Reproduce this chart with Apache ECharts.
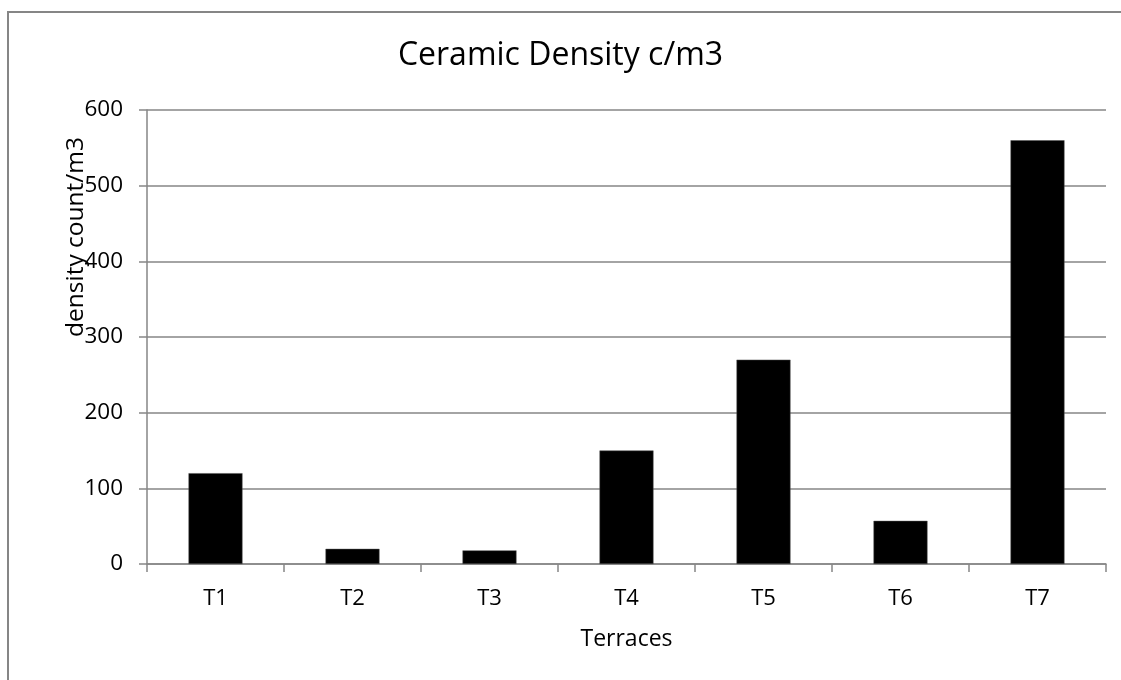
<!DOCTYPE html>
<html>
<head>
<meta charset="utf-8">
<script src="https://cdn.jsdelivr.net/npm/echarts@6/dist/echarts.min.js"></script>
<style>
  html, body { margin: 0; padding: 0; background: #fff; }
  #chart { width: 1121px; height: 680px; }
</style>
</head>
<body>
<div id="chart"></div>
<script>
// Ceramic density per terrace (count per cubic metre)
const terraces = ['T1', 'T2', 'T3', 'T4', 'T5', 'T6', 'T7'];
const density = [120, 20, 18, 150, 270, 57, 560];
const yTicks = { min: 0, max: 600, interval: 100 };

const FONT = '"Open Sans", Lato, sans-serif';
const GREY = '#868686';

const chart = echarts.init(document.getElementById('chart'), null, { renderer: 'canvas' });

chart.setOption({
  backgroundColor: '#ffffff',
  animation: false,
  title: {
    text: 'Ceramic Density c/m3',
    left: 'center',
    top: 35,
    textStyle: { fontFamily: FONT, fontSize: 32, fontWeight: 'normal', color: '#000' }
  },
  graphic: [
    {
      type: 'rect',
      shape: { x: 8, y: 12, width: 1130, height: 690 },
      style: { fill: 'none', stroke: GREY, lineWidth: 2 },
      silent: true
    },
    {
      // y-axis title, placed in the upper half beside the tick labels
      type: 'text',
      x: 76,
      y: 237,
      rotation: Math.PI / 2,
      style: {
        text: 'density count/m3',
        fontFamily: FONT,
        fontSize: 24.5,
        fill: '#000',
        align: 'center',
        verticalAlign: 'middle'
      },
      silent: true
    }
  ],
  grid: { left: 147, right: 15, top: 110, bottom: 116, containLabel: false },
  xAxis: {
    type: 'category',
    data: terraces,
    boundaryGap: true,
    name: 'Terraces',
    nameLocation: 'middle',
    nameGap: 64,
    nameTextStyle: { fontFamily: FONT, fontSize: 23, color: '#000' },
    axisLine: { lineStyle: { color: GREY, width: 1.5 } },
    axisTick: { show: true, length: 8, alignWithLabel: false, lineStyle: { color: GREY, width: 1.5 } },
    axisLabel: { fontFamily: FONT, fontSize: 22, color: '#000', margin: 24 },
    splitLine: { show: false }
  },
  yAxis: {
    type: 'value',
    min: yTicks.min,
    max: yTicks.max,
    interval: yTicks.interval,
    axisLine: { show: true, lineStyle: { color: GREY, width: 1.5 } },
    axisTick: { show: true, length: 8, lineStyle: { color: GREY, width: 1.5 } },
    axisLabel: { fontFamily: FONT, fontSize: 22.5, color: '#000', margin: 24 },
    splitLine: { show: true, lineStyle: { color: GREY, width: 1.5 } }
  },
  series: [{
    type: 'bar',
    data: density,
    barWidth: 54,
    itemStyle: { color: '#000000', borderColor: '#555', borderWidth: 0.5 }
  }]
});
</script>
</body>
</html>
